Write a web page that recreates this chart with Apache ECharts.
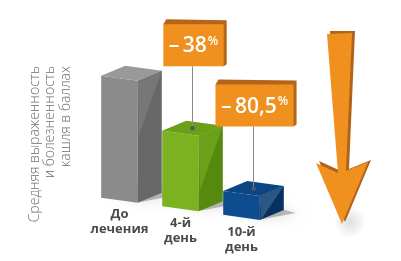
<!DOCTYPE html>
<html>
<head>
<meta charset="utf-8">
<script src="https://cdn.jsdelivr.net/npm/echarts@6/dist/echarts.min.js"></script>
<style>
  html, body { margin: 0; padding: 0; background: #ffffff; }
  #chart { width: 401px; height: 261px; }
</style>
</head>
<body>
<div id="chart"></div>
<script>
// Cough severity score before treatment and on days 4 and 10
const categories = ['До\nлечения', '4-й\nдень', '10-й\nдень'];
const coughScores = [2.1, 1.3, 0.41];
const reductionLabels = ['', '–\u200938', '–\u200980,5'];
const axisTitle = 'Средняя выраженность\nи болезненность\nкашля в баллах';

// Look of the 3D boxes
const TILT = 0.14;          // slope of the floor line (perspective)
const DEPTH = [24, -10];    // offset of the back face
const palettes = [
  { front: '#8b8b8b', side: '#676767', glint: '#777777', top: '#999999' },
  { front: '#7cb220', side: '#558a0f', glint: '#6aa01a', top: '#6c9f18' },
  { front: '#0d4c8f', side: '#07305f', glint: '#2a5784', top: '#0c4585' }
];
const ORANGE = '#f0911f';
const ORANGE_DARK = '#b5651a';
const FONT = '"Open Sans", "Noto Sans", sans-serif';

const measureCtx = document.createElement('canvas').getContext('2d');
function textWidth(str, font) {
  measureCtx.font = font;
  return measureCtx.measureText(str).width;
}

function renderItem(params, api) {
  const i = api.value(0);
  const cs = params.coordSys;
  const base = api.coord([i, 0]);
  const top = api.coord([i, api.value(1)]);
  const bw = api.size([1, 0])[0] * 0.6;
  const dx = DEPTH[0], dy = DEPTH[1];
  const lift = x => TILT * (x - cs.x);
  const x0 = base[0] - bw / 2, x1 = base[0] + bw / 2;
  const b0 = base[1] + lift(x0), b1 = base[1] + lift(x1);
  const t0 = top[1] + lift(x0), t1 = top[1] + lift(x1);
  const h = b0 - t0;
  const c = palettes[i];
  const children = [];

  // soft shadow on the floor
  children.push({
    type: 'polygon', silent: true,
    shape: { points: [[x0 + 6, b0 - 3], [x1 + 4, b1 - 1], [x1 + dx + 12, b1 + dy + 3], [x0 + dx + 8, b0 + dy - 3]] },
    style: { fill: 'rgba(0,0,0,0.25)', shadowBlur: 12, shadowColor: 'rgba(0,0,0,0.45)', shadowOffsetX: 5 }
  });
  // front face
  children.push({ type: 'polygon', shape: { points: [[x0, t0], [x1, t1], [x1, b1], [x0, b0]] }, style: { fill: c.front } });
  // right face
  children.push({ type: 'polygon', shape: { points: [[x1, t1], [x1 + dx, t1 + dy], [x1 + dx, b1 + dy], [x1, b1]] }, style: { fill: c.side } });
  // light wedge on the right face
  children.push({ type: 'polygon', shape: { points: [[x1, t1], [x1 + dx, t1 + dy], [x1 + 1, t1 + Math.min(h, 55)]] }, style: { fill: c.glint } });
  // top face
  children.push({ type: 'polygon', shape: { points: [[x0, t0], [x0 + dx, t0 + dy], [x1 + dx, t1 + dy], [x1, t1]] }, style: { fill: c.top } });
  // category label under the box
  children.push({
    type: 'text', x: base[0], y: base[1] + lift(base[0]) + 7,
    style: {
      text: categories[i], fill: '#4a4a4a', font: 'bold 13px ' + FONT,
      align: 'center', verticalAlign: 'top', lineHeight: 15
    }
  });

  // callout with the reduction
  if (reductionLabels[i]) {
    const num = reductionLabels[i];
    const dotX = (x0 + x1) / 2 + dx / 2;
    const dotY = (t0 + t1) / 2 + dy / 2;
    const boxH = 42;
    const boxBottom = dotY - 62;
    const w = textWidth(num, '600 21px ' + FONT) + textWidth('%', '600 12px ' + FONT) + 12;
    const bx = dotX - w / 2 + 1;
    const by = boxBottom - boxH;
    children.push({ type: 'line', shape: { x1: dotX, y1: boxBottom, x2: dotX, y2: dotY }, style: { stroke: '#8a8a8a', lineWidth: 1 } });
    children.push({ type: 'circle', shape: { cx: dotX, cy: dotY, r: 2.3 }, style: { fill: '#4e5864' } });
    children.push({
      type: 'polygon',
      shape: { points: [[bx, by], [bx + 3, by - 5], [bx + w + 3, by - 4], [bx + w + 3, by + boxH - 2], [bx + w, by + boxH]] },
      style: { fill: ORANGE_DARK }
    });
    children.push({ type: 'rect', shape: { x: bx, y: by, width: w, height: boxH }, style: { fill: ORANGE } });
    children.push({
      type: 'text', x: bx + w / 2, y: by + boxH / 2 + 1,
      style: {
        text: '{n|' + num + '}{p|%}', align: 'center', verticalAlign: 'middle',
        rich: {
          n: { fontFamily: FONT, fontSize: 21, fontWeight: 600, fill: '#ffffff', lineHeight: 24 },
          p: { fontFamily: FONT, fontSize: 12, fontWeight: 600, fill: '#ffffff', lineHeight: 24, verticalAlign: 'top', padding: [1, 0, 0, 1] }
        }
      }
    });
  }
  return { type: 'group', children: children };
}

const chart = echarts.init(document.getElementById('chart'), null, { renderer: 'canvas' });
chart.setOption({
  animation: false,
  backgroundColor: '#ffffff',
  grid: { left: 89, width: 183, top: 74, height: 122 },
  xAxis: { type: 'category', data: categories, show: false },
  yAxis: { type: 'value', min: 0, max: 2.1, show: false },
  series: [{
    type: 'custom',
    renderItem: renderItem,
    clip: false,
    data: coughScores.map((v, i) => [i, v])
  }],
  graphic: [
    {
      type: 'text', x: 27, y: 66, rotation: Math.PI / 2,
      style: {
        text: axisTitle, fill: '#6e6e6e', font: '300 14px ' + FONT,
        align: 'right', verticalAlign: 'top', lineHeight: 15.5
      }
    },
    {
      type: 'ellipse', silent: true,
      shape: { cx: 350, cy: 222, rx: 42, ry: 16 },
      style: {
        fill: {
          type: 'radial', x: 0.5, y: 0.5, r: 0.5,
          colorStops: [{ offset: 0, color: 'rgba(0,0,0,0.13)' }, { offset: 1, color: 'rgba(0,0,0,0)' }]
        }
      }
    },
    {
      type: 'polygon',
      shape: { points: [[330, 31], [355, 31], [349, 169], [371, 160], [345, 222], [319, 161], [341, 171]] },
      style: { fill: '#b0621a' }
    },
    {
      type: 'polygon',
      shape: { points: [[327, 34], [352, 33], [346, 171], [368, 162], [342, 224], [316, 163], [338, 173]] },
      style: { fill: ORANGE }
    }
  ]
});
</script>
</body>
</html>
